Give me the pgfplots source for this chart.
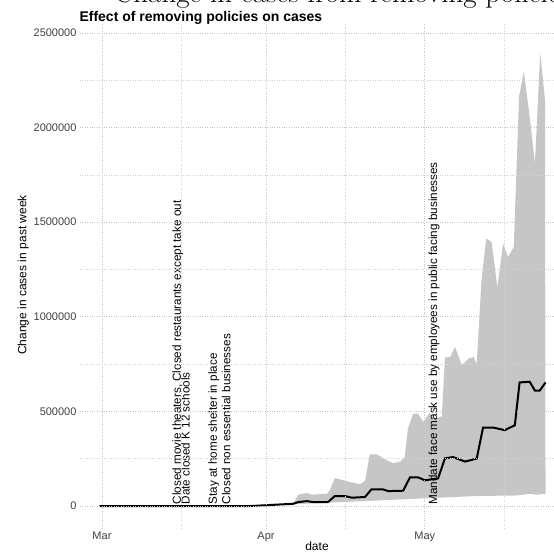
\documentclass[border=0pt]{standalone}
\usepackage{pgfplots}
\pgfplotsset{compat=1.18}
\usepackage{fontspec}
\setmainfont{Liberation Sans}
\newfontfamily\lmfont{Latin Modern Roman}
\begin{document}
\begin{tikzpicture}
\begin{axis}[
  scale only axis, width=474pt, height=506pt,
  xmin=-4.15, xmax=85.4, ymin=-116000, ymax=2558000,
  axis line style={draw=none},
  major tick style={draw=none}, minor tick style={draw=none},
  axis on top,
  xtick={0,31,61}, xticklabels={Mar,Apr,May},
  minor xtick={15,46,76},
  ytick={0,500000,1000000,1500000,2000000,2500000},
  minor ytick={250000,750000,1250000,1750000,2250000},
  scaled y ticks=false,
  yticklabel style={/pgf/number format/fixed,/pgf/number format/1000 sep={}},
  /pgf/number format/assume math mode=true,
  tick label style={font=\fontsize{11}{13}\selectfont, text=black!75},
  grid=both,
  major grid style={gray!45, dotted, line width=0.8pt},
  minor grid style={gray!35, dotted, line width=0.6pt},
  xlabel={date}, ylabel={Change in cases in past week},
  label style={font=\fontsize{12}{14}\selectfont},
  xlabel style={yshift=6pt},
  ylabel style={yshift=-2pt},
  title={\textbf{Effect of removing policies on cases}},
  title style={font=\fontsize{14}{16}\selectfont, anchor=south west, at={(rel axis cs:0,1)}, xshift=-4pt, yshift=-12pt},
  clip=false,
]
\addplot[fill=gray!45, draw=none] coordinates {
(28,0) (36.1,12000) (37.1,60000) (38.7,69000) (39.6,60000) (42.5,65000) (43.1,86000)
(44.0,148000) (45.6,136000) (48.7,115000) (49.7,132000) (50.6,273000) (51.9,273000)
(53.8,242000) (55.0,227000) (56.3,233000) (57.2,259000) (57.8,409000) (58.8,489000)
(59.7,489000) (60.7,445000) (61.9,492000) (62.9,462000) (64.2,474000) (64.8,785000)
(65.8,788000) (66.7,841000) (68.0,744000) (69.3,780000) (70.2,788000) (70.8,750000)
(71.7,1193000) (72.6,1414000) (73.6,1396000) (74.7,1157000) (75.8,1387000) (76.7,1316000)
(77.8,1369000) (78.8,2165000) (79.7,2297000) (80.8,2059000) (81.8,1811000) (82.8,2394000)
(83.7,2147000) (83.8,65000) (82,60000) (80.8,65000) (78.5,56000) (70.8,53000) (59.5,39000)
(36,9000) (28,0)} \closedcycle;
\addplot[black, line width=2pt] coordinates {
(-0.5,0) (28,0) (36.1,12000) (37.1,21000) (38.7,26000) (39.9,21000) (42.7,21000)
(44.0,53000) (45.9,53000) (47.2,44000) (49.7,48000) (50.9,88000) (53.1,88000)
(54.1,79000) (56.9,81000) (58.2,152000) (59.7,152000) (61.0,136000) (63.5,146000)
(64.8,252000) (66.3,259000) (68.6,235000) (70.8,251000) (72.0,415000) (73.9,415000)
(76.1,401000) (78.0,427000) (78.9,653000) (80.8,657000) (81.8,610000) (82.7,610000)
(83.8,653000)};
\begin{scope}[every node/.style={rotate=90, anchor=south west, inner sep=0pt, font=\fontsize{11.7}{12}\selectfont}]
\node at (axis cs:15.4,8000) {Closed movie theaters, Closed restaurants except take out};
\node at (axis cs:16.6,8000) {Date closed K 12 schools};
\node at (axis cs:22.2,8000) {Stay at home  shelter in place};
\node at (axis cs:24.3,8000) {Closed non essential businesses};
\node at (axis cs:63.8,8000) {Mandate face mask use by employees in public facing businesses};
\end{scope}
\end{axis}
\node[anchor=center, font=\lmfont\fontsize{29}{31}\selectfont] at (262pt,533pt) {Change in cases from removing policies};
\pgfresetboundingbox
\useasboundingbox (-80pt,-30pt) rectangle (474pt,528pt);
\end{tikzpicture}
\end{document}
